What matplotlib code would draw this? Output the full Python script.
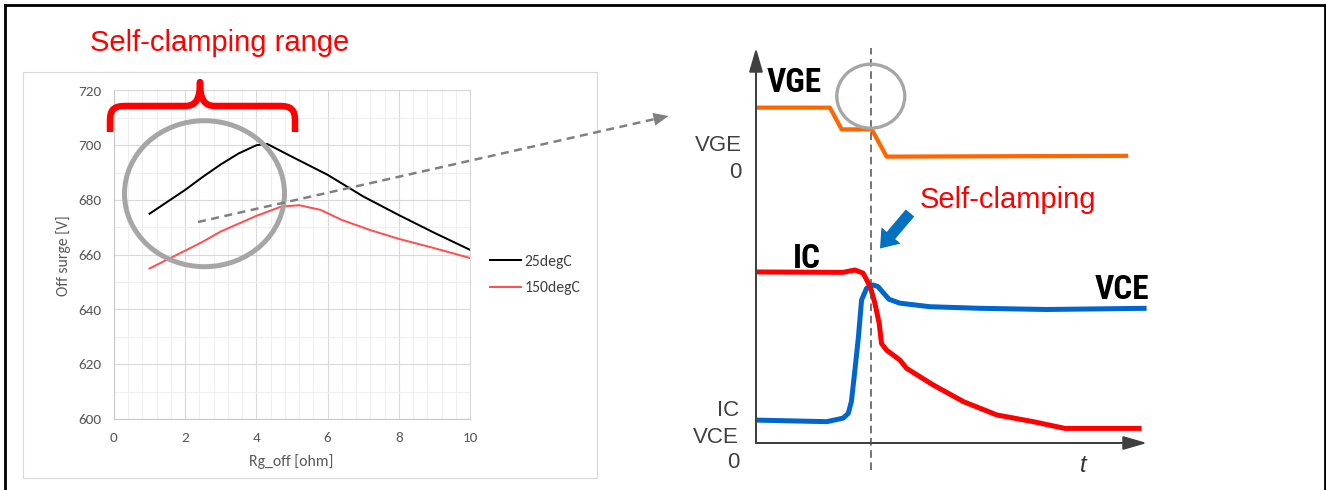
import matplotlib
matplotlib.use('Agg')
import matplotlib.pyplot as plt
import numpy as np
from matplotlib.patches import Ellipse, FancyArrow, PathPatch, Rectangle
from matplotlib.path import Path
from matplotlib.ticker import MultipleLocator
from matplotlib import font_manager

W, H, DPI = 1326, 490, 100

# ---------------- data: Excel chart (Off surge vs Rg_off) ----------------
rg_25 = [1, 2, 2.5, 3, 3.5, 4, 4.3, 5, 6, 7, 8, 9, 10]
surge_25 = [675, 683.7, 688.5, 693, 697, 700, 700.5, 695.8, 689.2, 681.3, 674.5, 668, 661.8]
rg_150 = [1, 2, 2.5, 3, 4, 4.7, 5.2, 5.8, 6.4, 7.2, 8, 9, 10]
surge_150 = [655, 661.5, 664.8, 668.5, 674.2, 677.6, 678.1, 676.4, 672.7, 669, 665.8, 662.4, 658.8]
series_labels = ['25degC', '150degC']
x_ticks = [0, 2, 4, 6, 8, 10]
y_ticks = [600, 620, 640, 660, 680, 700, 720]

# ---------------- data: switching waveforms (arbitrary units) ----------------
t_vge = [0.2, 18.9, 21.9, 29.6, 33.4, 95.2]
v_vge = [84.9, 84.9, 79.4, 79.4, 72.5, 72.7]
t_ic = [0, 22.25, 25.3, 27.4, 29.2, 30.4, 31.5, 32.1, 33.4, 36.8, 38.5, 45.3, 53.0, 61.6, 70.9, 79.0, 98.6]
v_ic = [43.3, 43.2, 43.8, 43.0, 39.6, 35.4, 30.3, 25.2, 23.5, 21.0, 18.9, 14.7, 10.5, 7.1, 5.4, 3.7, 3.7]
t_vce = [0, 18.1, 22.3, 23.6, 24.4, 25.3, 26.2, 27.0, 28.3, 30.0, 31.2, 32.4, 34.0, 36.8, 44.5, 57.3, 74.3, 99.9]
v_vce = [5.8, 5.4, 6.3, 7.5, 10.5, 18.5, 26.9, 36.2, 39.2, 40.0, 39.6, 38.2, 36.4, 35.4, 34.5, 34.1, 33.8, 34.1]
t_clamp = 29.4

# ---------------- fonts ----------------
names = {f.name for f in font_manager.fontManager.ttflist}
excel_font = [f for f in ['Carlito', 'Lato', 'DejaVu Sans'] if f in names][0]
narrow_font = [f for f in ['Liberation Sans Narrow', 'Roboto Condensed', 'Open Sans Condensed',
                           'Roboto', 'DejaVu Sans'] if f in names][0]
arial = 'Liberation Sans' if 'Liberation Sans' in names else 'DejaVu Sans'

fig = plt.figure(figsize=(W / DPI, H / DPI), dpi=DPI)
fig.patch.set_facecolor('white')

PX = 72.0 / DPI  # points per pixel

# ---------------- Excel chart axes ----------------
ax = fig.add_axes([114 / W, (H - 419) / H, (470 - 114) / W, (419 - 90.5) / H])
ax.set_facecolor('white')
ax.plot(rg_25, surge_25, color='#000000', lw=2 * PX, label=series_labels[0],
        solid_joinstyle='round')
ax.plot(rg_150, surge_150, color='#FF5050', lw=2 * PX, label=series_labels[1],
        solid_joinstyle='round')
ax.set_xlim(0, 10)
ax.set_ylim(600, 720)
ax.set_xticks(x_ticks)
ax.set_yticks(y_ticks)
ax.xaxis.set_minor_locator(MultipleLocator(0.4))
ax.yaxis.set_minor_locator(MultipleLocator(10))
ax.grid(which='minor', color='#EFEFEF', lw=0.8)
ax.grid(which='major', color='#D9D9D9', lw=0.8)
ax.set_axisbelow(True)
for s in ax.spines.values():
    s.set_color('#D9D9D9')
    s.set_linewidth(0.8)
ax.spines['left'].set_color('#C8C8C8')
ax.spines['bottom'].set_color('#C8C8C8')
ax.tick_params(which='both', length=0)
ax.tick_params(axis='x', pad=9, labelsize=11, labelcolor='#595959')
ax.tick_params(axis='y', pad=9, labelsize=11, labelcolor='#595959')
for lab in ax.get_xticklabels() + ax.get_yticklabels():
    lab.set_fontfamily(excel_font)
leg = ax.legend(loc='center left', bbox_to_anchor=(490 / W, 1 - 275 / H),
                bbox_transform=fig.transFigure, frameon=False, handlelength=2.0,
                handletextpad=0.2, labelspacing=0.8, borderpad=0, borderaxespad=0,
                prop={'family': excel_font, 'size': 11.3})
for txt in leg.get_texts():
    txt.set_color('#404040')

# ---------------- waveform axes ----------------
ax2 = fig.add_axes([756 / W, (H - 443) / H, 391 / W, 395 / H])
ax2.set_xlim(0, 100)
ax2.set_ylim(0, 100)
ax2.axis('off')
ax2.patch.set_alpha(0)
ax2.plot(t_vge, v_vge, color='#FF6600', lw=4.2 * PX, solid_joinstyle='round',
         solid_capstyle='butt', clip_on=False)
ax2.plot(t_vce, v_vce, color='#0066CC', lw=5 * PX, solid_joinstyle='round',
         solid_capstyle='butt', clip_on=False)
ax2.plot(t_ic, v_ic, color='#FF0000', lw=5 * PX, solid_joinstyle='round',
         solid_capstyle='butt', clip_on=False)
ax2.plot([t_clamp, t_clamp], [-6.8, 100], color='#505050', lw=1.1,
         linestyle=(0, (5, 3)), clip_on=False, zorder=5)
arrow_kw = dict(arrowstyle='-|>,head_length=1.45,head_width=0.42', color='#404040',
                lw=2 * PX, shrinkA=0, shrinkB=0)
ax2.annotate('', xy=(0, 1), xytext=(0, 0), xycoords='axes fraction',
             textcoords='axes fraction', arrowprops=arrow_kw)
ax2.annotate('', xy=(1, 0), xytext=(0, 0), xycoords='axes fraction',
             textcoords='axes fraction', arrowprops=arrow_kw)

# ---------------- overlay (pixel coordinates) ----------------
ov = fig.add_axes([0, 0, 1, 1], zorder=10)
ov.set_xlim(0, W)
ov.set_ylim(H, 0)
ov.axis('off')
ov.patch.set_alpha(0)

# outer frame
ov.plot([5.3, 5.3], [H, 4.7], color='black', lw=2.8 * PX, solid_capstyle='projecting')
ov.plot([5.3, 1325.2], [4.7, 4.7], color='black', lw=2.8 * PX, solid_capstyle='projecting')
ov.plot([1325.2, 1325.2], [4.7, H], color='black', lw=2.8 * PX, solid_capstyle='projecting')

# Excel chart area border
ov.add_patch(Rectangle((23, 72), 597 - 23, 478 - 72, fill=False, ec='#D9D9D9', lw=0.8))

# titles and axis titles
ov.text(90, 43, 'Self-clamping range', color='#FF0000', fontsize=21, family=arial,
        ha='left', va='center')
ov.text(64, 256, 'Off surge [V]', color='#595959', fontsize=11.3, family=excel_font,
        rotation=90, ha='center', va='center')
ov.text(291, 462, 'Rg_off [ohm]', color='#595959', fontsize=11.3, family=excel_font,
        ha='center', va='center')

# red brace
bv = [(110, 132), (110, 121), (110, 109), (114, 106), (126, 106), (185, 106),
      (196, 106), (200, 99), (200, 82), (200, 99), (204, 106), (215, 106),
      (279, 106), (291, 106), (295, 109), (295, 121), (295, 132)]
bc = [Path.MOVETO, Path.LINETO, Path.CURVE4, Path.CURVE4, Path.CURVE4, Path.LINETO,
      Path.CURVE4, Path.CURVE4, Path.CURVE4, Path.CURVE4, Path.CURVE4, Path.CURVE4,
      Path.LINETO, Path.CURVE4, Path.CURVE4, Path.CURVE4, Path.LINETO]
ov.add_patch(PathPatch(Path(bv, bc), fill=False, ec='#FF0000', lw=6.5 * PX,
                       joinstyle='round', capstyle='butt'))

# grey circles
ov.add_patch(Ellipse((204.5, 193.7), 160, 146, fill=False, ec='#A6A6A6', lw=5 * PX))
ov.add_patch(Ellipse((870.8, 96.2), 68, 64, fill=False, ec='#A6A6A6', lw=3.3 * PX))

# grey dashed pointer arrow
ov.plot([198, 655], [222, 119], color='#808080', lw=2.5 * PX, linestyle=(0, (3.2, 2.2)))
ov.add_patch(FancyArrow(653, 119.5, 15.5, -3.5, width=0.01, head_width=13, head_length=15,
                        length_includes_head=True, color='#808080', lw=0))

# blue block arrow
ov.add_patch(FancyArrow(910, 213, -30, 35.5, width=11, head_width=25, head_length=17,
                        length_includes_head=True, color='#0070C0', lw=0))

# waveform labels
lab_kw = dict(color='#404040', fontsize=16, family=arial, ha='right', va='center')
ov.text(742, 145, 'VGE', **lab_kw)
ov.text(742, 172, '0', **lab_kw)
ov.text(739, 410, 'IC', **lab_kw)
ov.text(739, 437, 'VCE', **lab_kw)
ov.text(739, 462, '0', **lab_kw)

bold_size = 24 if ('Narrow' in narrow_font or 'Condensed' in narrow_font) else 21.5
bold_kw = dict(color='black', fontsize=bold_size, family=narrow_font, weight='bold',
               ha='left', va='center')
ov.text(767, 83, 'VGE', **bold_kw)
ov.text(793, 259, 'IC', **bold_kw)
ov.text(1095, 290, 'VCE', **bold_kw)

ov.text(920, 200, 'Self-clamping', color='#FF0000', fontsize=21, family=arial,
        ha='left', va='center')
ov.text(1083, 465, 't', color='#333333', fontsize=17, family=arial, style='italic',
        ha='center', va='center')

fig.savefig('out.png', dpi=DPI)
